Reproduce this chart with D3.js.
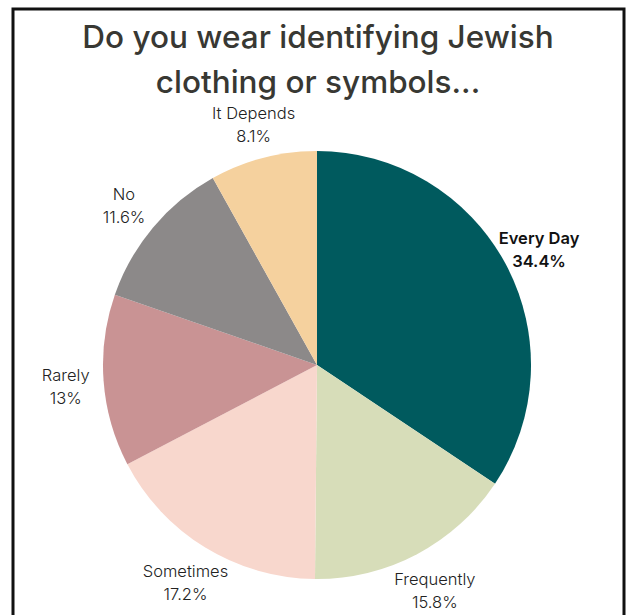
<!DOCTYPE html>
<html>
<head>
<meta charset="utf-8">
<script src="https://cdn.jsdelivr.net/npm/d3@7"></script>
<style>
  html, body { margin: 0; padding: 0; background: #fff; }
  svg { display: block; }
</style>
</head>
<body>
<div id="chart"></div>
<script>
// survey answers, clockwise from 12 o'clock
const categories = ["Every Day", "Frequently", "Sometimes", "Rarely", "No", "It Depends"];
const values = [34.4, 15.8, 17.2, 13, 11.6, 8.1];
const valueLabels = ["34.4%", "15.8%", "17.2%", "13%", "11.6%", "8.1%"];
const colors = ["#005a5e", "#d7ddb9", "#f8d7cd", "#c99394", "#8c8989", "#f5d19e"];
const titleLines = ["Do you wear identifying Jewish", "clothing or symbols..."];

const W = 629;
const H = 615;
const CX = 317;
const CY = 365;
const R = 214;
const LABEL_R = 252;
const LINE_H = 23;

const svg = d3
  .select("#chart")
  .append("svg")
  .attr("width", W)
  .attr("height", H);

// frame (open at the bottom)
svg
  .append("path")
  .attr("d", "M13," + (H + 5) + "V9H624V" + (H + 5))
  .attr("fill", "none")
  .attr("stroke", "#111")
  .attr("stroke-width", 3);

svg
  .append("g")
  .selectAll("text")
  .data(titleLines)
  .enter()
  .append("text")
  .text((d) => d)
  .attr("x", 318)
  .attr("y", (d, i) => 48 + i * 44.5)
  .attr("text-anchor", "middle")
  .attr("font-family", "Inter, 'Open Sans', sans-serif")
  .attr("font-weight", 500)
  .attr("font-size", "31.5px")
  .attr("fill", "#383833");

const pie = d3
  .pie()
  .sort(null)
  .value((d) => d.value);

const data = categories.map((c, i) => ({
  name: c,
  value: values[i],
  label: valueLabels[i],
  color: colors[i],
  bold: i === 0,
}));

const arcs = pie(data);
const arc = d3.arc().innerRadius(0).outerRadius(R);
const labelArc = d3.arc().innerRadius(LABEL_R).outerRadius(LABEL_R);

const g = svg.append("g").attr("transform", "translate(" + CX + "," + CY + ")");

g.selectAll("path")
  .data(arcs)
  .enter()
  .append("path")
  .attr("d", arc)
  .attr("fill", (d) => d.data.color);

// two-line labels centred on a ring outside the rim
const labels = g
  .selectAll("g.label")
  .data(arcs)
  .enter()
  .append("g")
  .attr("class", "label");

labels.each(function(d) {
  const node = d3.select(this);
  const t = node
    .append("text")
    .attr("text-anchor", "middle")
    .attr("font-family", "Inter, 'Open Sans', sans-serif")
    .attr("font-size", "16.5px")
    .attr("font-weight", d.data.bold ? 600 : 300)
    .attr("fill", d.data.bold ? "#111" : "#222");
  t.append("tspan").attr("x", 0).attr("y", 0).text(d.data.name);
  t.append("tspan").attr("x", 0).attr("y", LINE_H).text(d.data.label);

  const box = this.getBBox();
  const [cx, cy] = labelArc.centroid(d);
  const bx = box.x + box.width / 2;
  const by = box.y + box.height / 2 - 3;
  node.attr("transform", "translate(" + (cx - bx) + "," + (cy - by) + ")");
});
</script>
</body>
</html>
